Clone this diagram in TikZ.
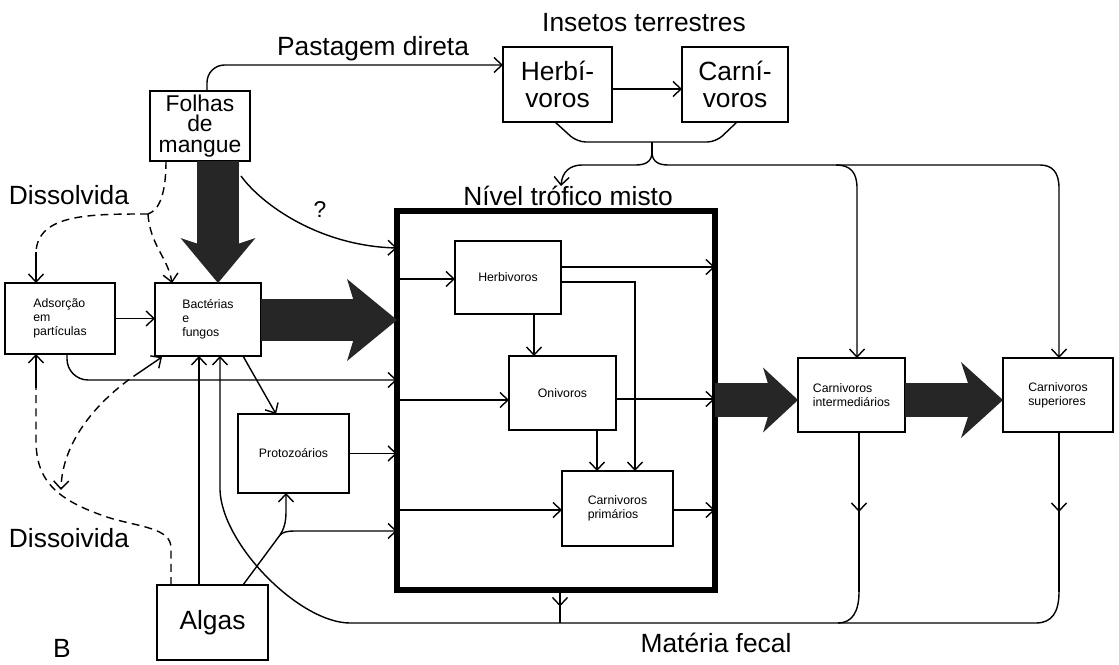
\documentclass[tikz,border=0pt]{standalone}
\usepackage{fontspec}
\setmainfont{Liberation Sans}
\usetikzlibrary{arrows.meta,decorations.markings}

\tikzset{
  caixa/.style={draw, inner sep=0pt, outer sep=0pt, align=left, font=\fontsize{7}{8}\selectfont},
  caixag/.style={draw, inner sep=0pt, outer sep=0pt, align=center, font=\fontsize{15}{15}\selectfont},
  rotulo/.style={inner sep=0pt, font=\fontsize{15}{18}\selectfont},
  solto/.style={dash pattern=on 4.5pt off 3pt},
  meio/.style={postaction={decorate}, decoration={markings,
      mark=at position 0.5 with {\arrow{Straight Barb[length=1.6mm,width=3mm]}}}},
  grossa/.style={black!85},
}

\begin{document}
\begin{tikzpicture}[%
      x=0.02cm, y=-0.02cm,
      line width=0.8pt,
      >={Straight Barb[length=1.6mm,width=3mm]},
      ]
      \useasboundingbox (0,0) rectangle (1119,665);

      % caixas
      \node[caixag, font=\fontsize{13}{11.5}\selectfont, minimum width=2cm, minimum height=1.4cm] (folhas) at (200,126) {Folhas\\de\\mangue};
      \node[caixag, minimum width=2.18cm, minimum height=1.5cm] (herbi) at (557.5,84.5) {Herbí-\\voros};
      \node[caixag, minimum width=2.12cm, minimum height=1.5cm] (carni) at (735,84.5) {Carní-\\voros};
      \node[caixa, minimum width=2.2cm, minimum height=1.42cm] (adsorcao) at (60,318.5) {Adsorção\\em\\partículas};
      \node[caixa, minimum width=2.12cm, minimum height=1.46cm] (bact) at (208,319.5) {Bactérias\\e\\fungos};
      \node[caixa, minimum width=2.22cm, minimum height=1.58cm] (proto) at (293.5,453.5) {Protozoários};
      \node[caixag, minimum width=2.22cm, minimum height=1.5cm] (algas) at (212.5,622.5) {Algas};
      \node[draw, line width=3pt, inner sep=0pt, outer sep=0pt,
            minimum width=6.36cm, minimum height=7.58cm] (nivel) at (556,400.5) {};
      \node[caixa, minimum width=2.12cm, minimum height=1.46cm] (herb) at (508,277.5) {Herbivoros};
      \node[caixa, minimum width=2.14cm, minimum height=1.48cm] (oniv) at (562.5,393) {Onivoros};
      \node[caixa, minimum width=2.22cm, minimum height=1.5cm] (carnprim) at (617.5,508.5) {Carnivoros\\primários};
      \node[caixa, minimum width=2.14cm, minimum height=1.48cm] (carnint) at (851.5,395) {Carnivoros\\intermediários};
      \node[caixa, minimum width=2.2cm, minimum height=1.48cm] (carnsup) at (1058,395) {Carnivoros\\superiores};

      % rotulos
      \node[rotulo] (pastlab) at (373,49) {Pastagem direta};
      \node[rotulo] (insetlab) at (644,23) {Insetos terrestres};
      \node[rotulo] (dis1) at (69,195) {Dissolvida};
      \node[rotulo] (dis2) at (69,538) {Dissoivida};
      \node[rotulo] (nivlab) at (568,196) {Nível trófico misto};
      \node[rotulo] (fecal) at (716,643) {Matéria fecal};
      \node[rotulo] (letra) at (62,648) {B};
      \node[rotulo, font=\fontsize{13}{15}\selectfont] (interr) at (320,210) {?};

      % setas grossas
      \draw[grossa, line width=0.86cm, -{Stealth[length=0.9cm,width=1.5cm,inset=0.25cm,line width=0pt]}]
            (folhas.south -| 218,0) -- (bact.north -| 218,0);
      \draw[grossa, line width=0.85cm, -{Stealth[length=1cm,width=1.64cm,inset=0.25cm,line width=0pt]}]
            (bact.east |- 0,320) -- (nivel.west |- 0,320);
      \draw[grossa, line width=0.68cm, -{Stealth[length=0.7cm,width=1.3cm,inset=0.2cm,line width=0pt]}]
            (nivel.east |- 0,400) -- (carnint.west |- 0,400);
      \draw[grossa, line width=0.68cm, -{Stealth[length=0.84cm,width=1.52cm,inset=0.25cm,line width=0pt]}]
            (carnint.east |- 0,400) -- (carnsup.west |- 0,400);

      % insetos terrestres
      \draw[->, rounded corners=10pt] (folhas.north -| 207,0) |- (herbi.west |- 0,65);
      \draw[->] (herbi.east |- 0,89) -- (carni.west |- 0,89);
      \draw[rounded corners=5pt] (herbi.south -| 555,0) -- (577,142) -- (716,142) -- (carni.south -| 737,0);
      \coordinate (ponta) at (652,142);
      \coordinate (baixo) at (652,152);
      \draw (ponta) -- (baixo);
      \draw[->] (baixo) .. controls (652,162) and (645,165) .. (636,165) -- (582,165)
            .. controls (570,165) and (562,172) .. (561,186);
      \draw[->] (baixo) .. controls (652,162) and (659,165) .. (668,165) -- (1040,165)
            .. controls (1052,165) and (1059,172) .. (1059,188) -- (carnsup.north -| 1059,0);
      \draw[->] (836,165) .. controls (850,165) and (857,172) .. (857,188) -- (carnint.north -| 857,0);

      % entradas do nivel misto
      \coordinate (qs) at (241,176);
      \draw[->] (qs) .. controls (262,205) and (320,246) .. (nivel.west |- 0,248);
      \draw[->] (adsorcao.east) -- (adsorcao.east -| bact.west);
      \draw[->, rounded corners=12pt] (adsorcao.south -| 67,0) |- (nivel.west |- 0,380);
      \draw[->] (bact.south -| 243,0) -- (proto.north -| 276,0);
      \draw[->] (proto.east) -- (nivel.west |- proto.east);
      \draw[->] (algas.north -| 199,0) -- (bact.south -| 199,0);
      \coordinate (ra) at (280,535);
      \draw (algas.north -| 243,0) -- (ra);
      \draw[->] (ra) .. controls (284,529) and (286,522) .. (286,512) -- (proto.south -| 286,0);
      \draw[->] (ra) .. controls (283,532) and (287,531) .. (296,531) -- (nivel.west |- 0,531);

      % dentro do nivel misto
      \draw[->] (nivel.west |- 0,279) -- (herb.west |- 0,279);
      \draw[->] (herb.east |- 0,267) -- (nivel.east |- 0,267);
      \draw[->] (herb.east |- 0,282) -| (carnprim.north -| 635,0);
      \draw[->] (herb.south -| 534,0) -- (oniv.north -| 534,0);
      \draw[->] (nivel.west |- 0,400) -- (oniv.west |- 0,400);
      \draw[->] (oniv.east |- 0,399) -- (nivel.east |- 0,399);
      \draw[->] (oniv.south -| 597,0) -- (carnprim.north -| 597,0);
      \draw[->] (nivel.west |- 0,510) -- (carnprim.west |- 0,510);
      \draw[->] (carnprim.east |- 0,510) -- (nivel.east |- 0,510);

      % materia fecal
      \coordinate (fsup) at (1059,592);
      \coordinate (fint) at (859,592);
      \draw[meio] (carnsup.south -| 1059,0) -- (fsup);
      \draw[meio] (carnint.south -| 859,0) -- (fint);
      \draw[meio] (nivel.south -| 560,0) -- (560,623);
      \draw (fint) .. controls (859,612) and (852,623) .. (838,623);
      \draw[->] (fsup) .. controls (1059,612) and (1052,623) .. (1036,623) -- (350,623)
            .. controls (300,623) and (222,545) .. (220,490) -- (bact.south -| 220,0);

      % dissolvida
      \draw[solto] (folhas.south -| 166,0) .. controls (166,192) and (160,210) .. (148,214) coordinate (jd);
      \draw[solto] (jd) .. controls (90,214) and (38,214) .. (36,252) coordinate (da);
      \draw[->] (da) -- (adsorcao.north -| 36,0);
      \draw[solto, ->] (jd) .. controls (150,245) and (168,258) .. (bact.north -| 172,0);
      \draw[solto] (algas.north -| 171,0) -- (171,548) .. controls (171,528) and (140,527) .. (110,518)
            .. controls (55,500) and (36,480) .. (36,440) -- (36,388) coordinate (db);
      \draw[->] (db) -- (adsorcao.south -| 36,0);
      \coordinate (dc) at (140,372);
      \draw[solto, ->] (dc) .. controls (100,398) and (62,440) .. (61,490);
      \draw[->] (dc) -- (162,357);
      \end{tikzpicture}
\end{document}
